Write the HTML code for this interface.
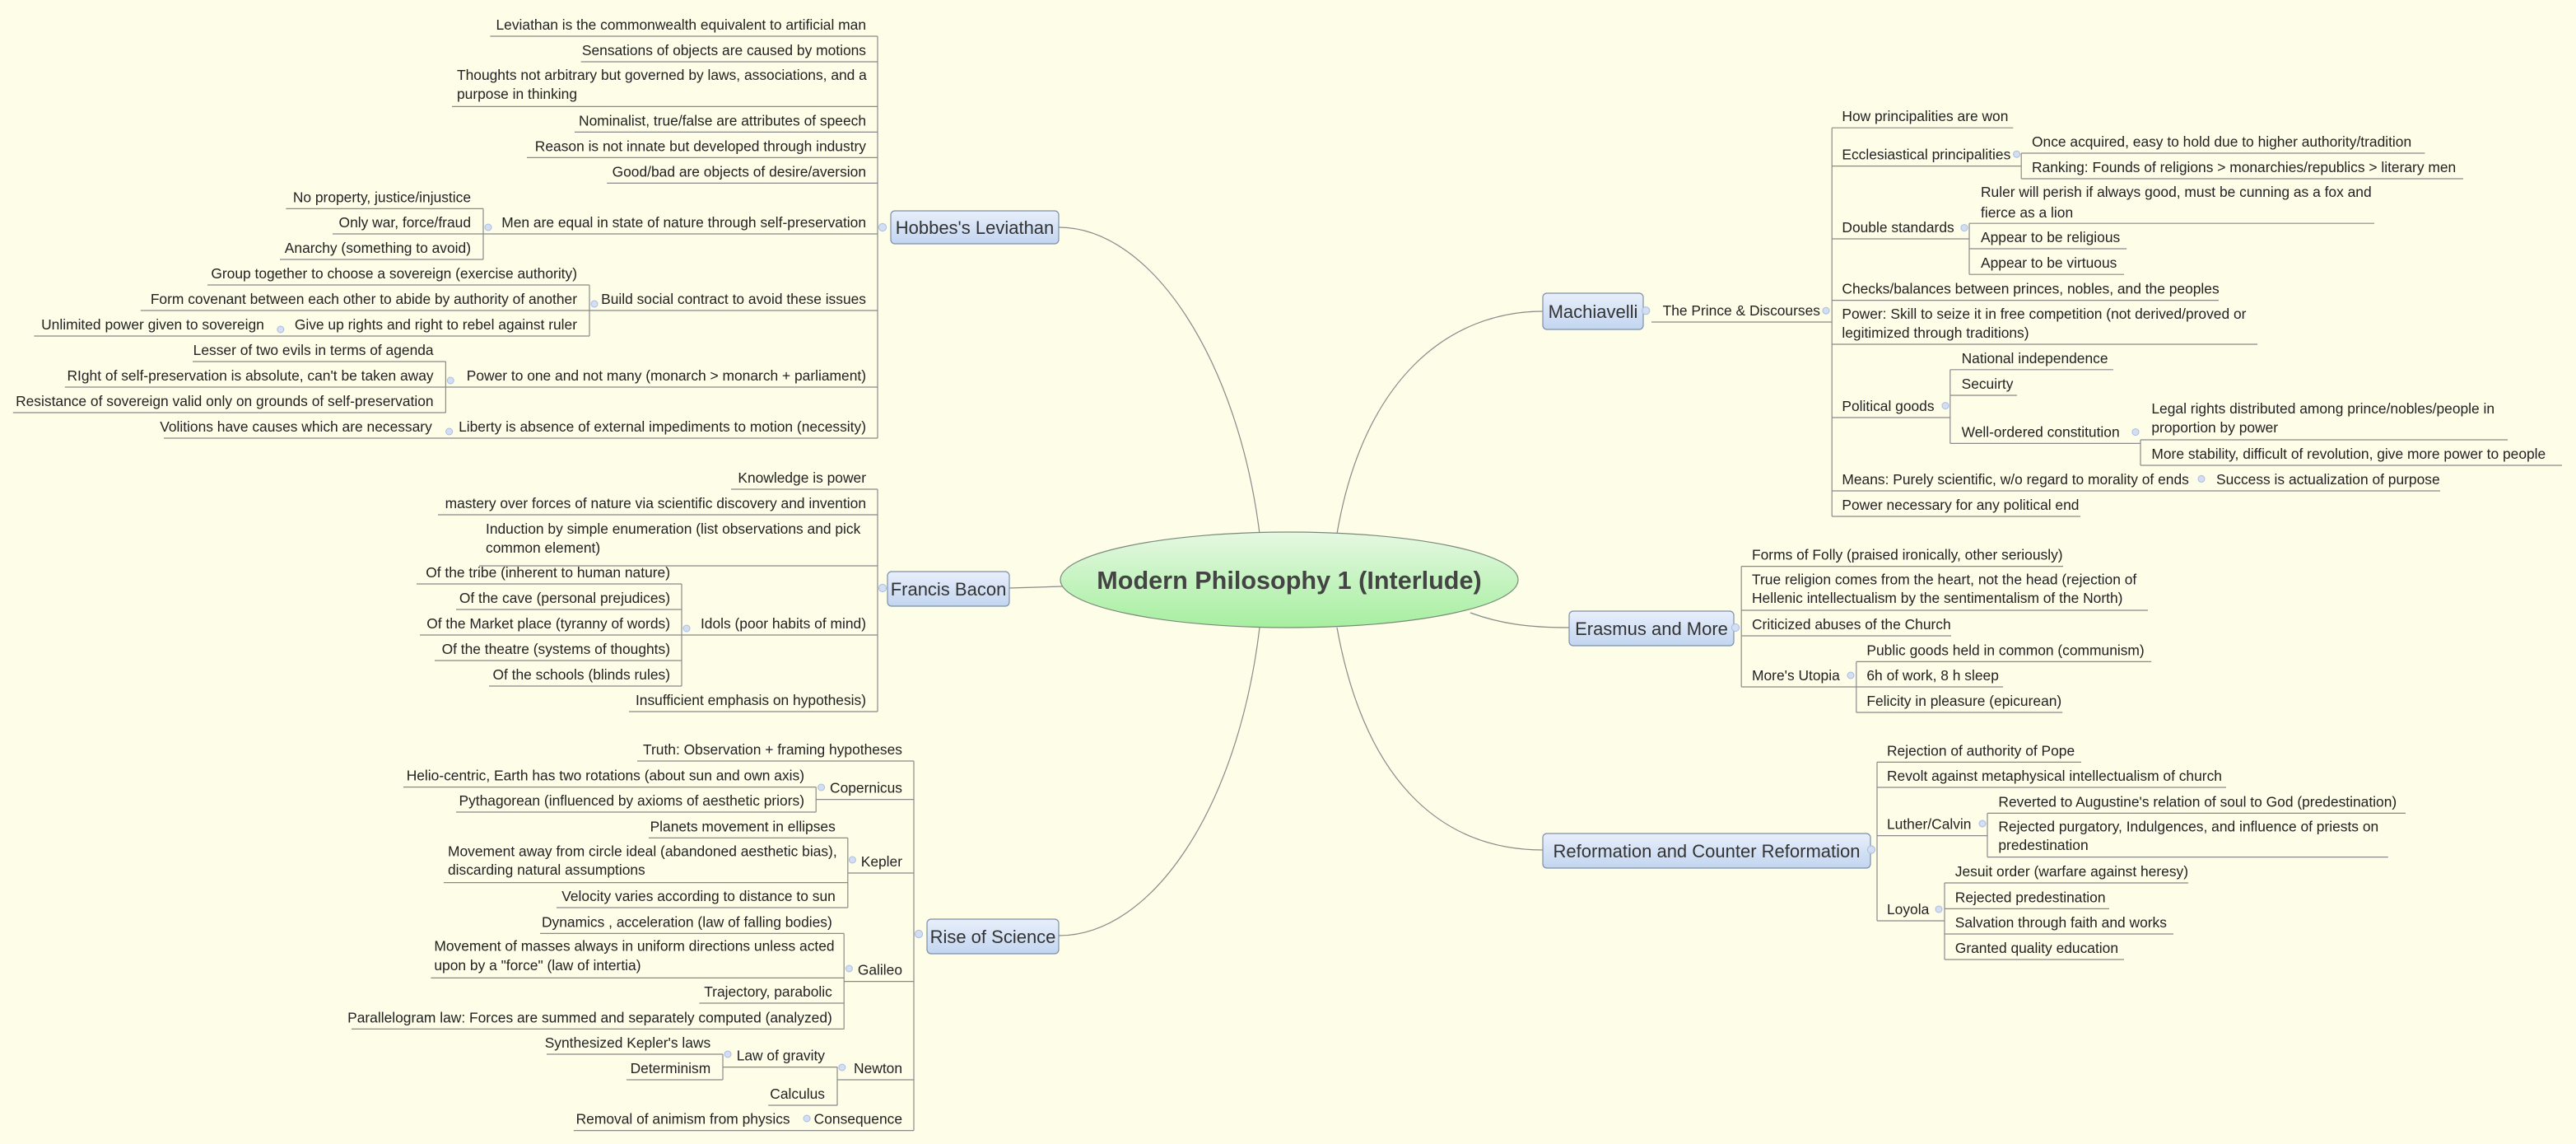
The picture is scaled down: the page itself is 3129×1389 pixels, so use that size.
<!DOCTYPE html>
<html><head><meta charset="utf-8"><style>
html,body{margin:0;padding:0;background:#fdfde8;}
svg{display:block}
.t{font-family:"Liberation Sans",sans-serif;font-size:8.7px;fill:#222}
.e{text-anchor:end}
.b{font-family:"Liberation Sans",sans-serif;font-size:11px;fill:#333;text-anchor:middle}
line,path.c{stroke:#8a8a8a;stroke-width:.6;fill:none}
circle{fill:#d3def2;stroke:#a9bee0;stroke-width:.5}
rect.bx{fill:url(#bg);stroke:#7f8fa8;stroke-width:.6}
</style></head><body>
<svg width="3129" height="1389" viewBox="0 0 1564.5 694.5" xmlns="http://www.w3.org/2000/svg">
<defs>
<linearGradient id="bg" x1="0" y1="0" x2="0" y2="1"><stop offset="0" stop-color="#e8effa"/><stop offset="1" stop-color="#c2d5f0"/></linearGradient>
<linearGradient id="gg" x1="0" y1="0" x2="0" y2="1"><stop offset="0" stop-color="#e6f8e2"/><stop offset="1" stop-color="#a6efa0"/></linearGradient>
</defs>
<rect width="1564.5" height="694.5" fill="#fdfde8"/>
<path class="c" d="M765,324 C752,220 700,138 643,138"/>
<path class="c" d="M645,356 L613,357"/>
<path class="c" d="M765,381 C752,490 700,568 643,568"/>
<path class="c" d="M812,324 C828,230 880,189 937,189"/>
<path class="c" d="M893,372 C912,379 930,381 953,381"/>
<path class="c" d="M812,381 C830,480 880,516 937,516"/>
<ellipse cx="783" cy="352" rx="139" ry="29" fill="url(#gg)" stroke="#7a8a7a" stroke-width=".6"/>
<text x="783" y="357.5" style="font-family:'Liberation Sans',sans-serif;font-size:15.3px;font-weight:bold;fill:#444;text-anchor:middle">Modern Philosophy 1 (Interlude)</text>

<rect class="bx" x="541" y="128" width="102" height="20" rx="2.5"/><text class="b" x="592" y="142">Hobbes's Leviathan</text>
<rect class="bx" x="539" y="347" width="74" height="21" rx="2.5"/><text class="b" x="576" y="361.5">Francis Bacon</text>
<rect class="bx" x="563" y="558" width="80" height="21" rx="2.5"/><text class="b" x="603" y="572.5">Rise of Science</text>
<rect class="bx" x="937" y="178" width="61" height="22" rx="2.5"/><text class="b" x="967.5" y="193">Machiavelli</text>
<rect class="bx" x="953" y="371" width="100" height="21" rx="2.5"/><text class="b" x="1003" y="385.5">Erasmus and More</text>
<rect class="bx" x="937" y="506" width="199" height="21" rx="2.5"/><text class="b" x="1036.5" y="520.5">Reformation and Counter Reformation</text>

<!-- HOBBES -->
<line x1="533" y1="22" x2="533" y2="266"/>
<circle cx="536" cy="138" r="2.3"/>
<text class="t e" x="526" y="18">Leviathan is the commonwealth equivalent to artificial man</text><line x1="297.7" y1="22" x2="533" y2="22"/>
<text class="t e" x="526" y="33.5">Sensations of objects are caused by motions</text><line x1="352.8" y1="37.5" x2="533" y2="37.5"/>
<text class="t" x="277.5" y="48.6">Thoughts not arbitrary but governed by laws, associations, and a<tspan x="277.5" y="60">purpose in thinking</tspan></text><line x1="274.5" y1="64.7" x2="533" y2="64.7"/>
<text class="t e" x="526" y="76.2">Nominalist, true/false are attributes of speech</text><line x1="349" y1="80.2" x2="533" y2="80.2"/>
<text class="t e" x="526" y="91.7">Reason is not innate but developed through industry</text><line x1="320" y1="95.7" x2="533" y2="95.7"/>
<text class="t e" x="526" y="107.2">Good/bad are objects of desire/aversion</text><line x1="368.6" y1="111.2" x2="533" y2="111.2"/>
<text class="t e" x="526" y="138">Men are equal in state of nature through self-preservation</text><line x1="293.5" y1="142" x2="533" y2="142"/>
<circle cx="296.5" cy="138" r="2"/>
<line x1="293.5" y1="126.7" x2="293.5" y2="157.5"/>
<text class="t e" x="286" y="122.7">No property, justice/injustice</text><line x1="173.7" y1="126.7" x2="293.5" y2="126.7"/>
<text class="t e" x="286" y="138">Only war, force/fraud</text><line x1="202" y1="142" x2="293.5" y2="142"/>
<text class="t e" x="286" y="153.5">Anarchy (something to avoid)</text><line x1="170" y1="157.5" x2="293.5" y2="157.5"/>
<text class="t e" x="526" y="184.5">Build social contract to avoid these issues</text><line x1="358" y1="188.5" x2="533" y2="188.5"/>
<circle cx="361" cy="184.5" r="2"/>
<line x1="358" y1="173" x2="358" y2="204"/>
<text class="t e" x="350.5" y="169">Group together to choose a sovereign (exercise authority)</text><line x1="126" y1="173" x2="358" y2="173"/>
<text class="t e" x="350.5" y="184.5">Form covenant between each other to abide by authority of another</text><line x1="85.4" y1="188.5" x2="358" y2="188.5"/>
<text class="t e" x="350.5" y="200">Give up rights and right to rebel against ruler</text><line x1="20.7" y1="204" x2="358" y2="204"/>
<circle cx="170.4" cy="200" r="2"/>
<text class="t e" x="160.4" y="200">Unlimited power given to sovereign</text>
<text class="t e" x="526" y="231">Power to one and not many (monarch &gt; monarch + parliament)</text><line x1="270.7" y1="235" x2="533" y2="235"/>
<circle cx="273.6" cy="231" r="2"/>
<line x1="270.7" y1="219.5" x2="270.7" y2="250.5"/>
<text class="t e" x="263.3" y="215.5">Lesser of two evils in terms of agenda</text><line x1="117" y1="219.5" x2="270.7" y2="219.5"/>
<text class="t e" x="263.3" y="231">RIght of self-preservation is absolute, can't be taken away</text><line x1="39.4" y1="235" x2="270.7" y2="235"/>
<text class="t e" x="263.3" y="246.5">Resistance of sovereign valid only on grounds of self-preservation</text><line x1="7.9" y1="250.5" x2="270.7" y2="250.5"/>
<text class="t e" x="526" y="262">Liberty is absence of external impediments to motion (necessity)</text><line x1="99.5" y1="266" x2="533" y2="266"/>
<circle cx="272.8" cy="262" r="2"/>
<text class="t e" x="262.4" y="262">Volitions have causes which are necessary</text>

<!-- BACON -->
<line x1="533" y1="297" x2="533" y2="432"/>
<circle cx="536" cy="357" r="2.3"/>
<text class="t e" x="526" y="293">Knowledge is power</text><line x1="444" y1="297" x2="533" y2="297"/>
<text class="t e" x="526" y="308.5">mastery over forces of nature via scientific discovery and invention</text><line x1="266" y1="312.5" x2="533" y2="312.5"/>
<text class="t" x="295" y="324">Induction by simple enumeration (list observations and pick<tspan x="295" y="335.5">common element)</tspan></text><line x1="291" y1="343.5" x2="533" y2="343.5"/>
<text class="t e" x="526" y="381.5">Idols (poor habits of mind)</text><line x1="414" y1="385.5" x2="533" y2="385.5"/>
<circle cx="417" cy="381.5" r="2"/>
<line x1="414" y1="354.5" x2="414" y2="416.5"/>
<text class="t e" x="407" y="350.5">Of the tribe (inherent to human nature)</text><line x1="253" y1="354.5" x2="414" y2="354.5"/>
<text class="t e" x="407" y="366">Of the cave (personal prejudices)</text><line x1="277" y1="370" x2="414" y2="370"/>
<text class="t e" x="407" y="381.5">Of the Market place (tyranny of words)</text><line x1="255" y1="385.5" x2="414" y2="385.5"/>
<text class="t e" x="407" y="397">Of the theatre (systems of thoughts)</text><line x1="264" y1="401" x2="414" y2="401"/>
<text class="t e" x="407" y="412.5">Of the schools (blinds rules)</text><line x1="297" y1="416.5" x2="414" y2="416.5"/>
<text class="t e" x="526" y="428">Insufficient emphasis on hypothesis)</text><line x1="382" y1="432" x2="533" y2="432"/>

<!-- SCIENCE -->
<line x1="555" y1="462" x2="555" y2="686.3"/>
<circle cx="558" cy="567" r="2.3"/>
<text class="t e" x="548" y="458">Truth: Observation + framing hypotheses</text><line x1="387" y1="462" x2="555" y2="462"/>
<text class="t e" x="548" y="481.3">Copernicus</text><line x1="495.6" y1="485.3" x2="555" y2="485.3"/>
<circle cx="498.8" cy="478" r="2"/>
<line x1="495.6" y1="477.8" x2="495.6" y2="493"/>
<text class="t e" x="488.5" y="473.8">Helio-centric, Earth has two rotations (about sun and own axis)</text><line x1="245" y1="477.8" x2="495.6" y2="477.8"/>
<text class="t e" x="488.5" y="489">Pythagorean (influenced by axioms of aesthetic priors)</text><line x1="277" y1="493" x2="495.6" y2="493"/>
<text class="t e" x="548" y="526">Kepler</text><line x1="514.9" y1="530" x2="555" y2="530"/>
<circle cx="517.7" cy="522" r="2"/>
<line x1="514.9" y1="508.7" x2="514.9" y2="551"/>
<text class="t e" x="507.4" y="504.7">Planets movement in ellipses</text><line x1="394" y1="508.7" x2="514.9" y2="508.7"/>
<text class="t" x="272" y="519.7">Movement away from circle ideal (abandoned aesthetic bias),<tspan x="272" y="531">discarding natural assumptions</tspan></text><line x1="269.5" y1="535.8" x2="514.9" y2="535.8"/>
<text class="t e" x="507.4" y="547">Velocity varies according to distance to sun</text><line x1="338" y1="551" x2="514.9" y2="551"/>
<text class="t e" x="548" y="591.8">Galileo</text><line x1="512.6" y1="595.8" x2="555" y2="595.8"/>
<circle cx="515.7" cy="588" r="2"/>
<line x1="512.6" y1="566.7" x2="512.6" y2="624.7"/>
<text class="t e" x="505.4" y="562.7">Dynamics , acceleration (law of falling bodies)</text><line x1="328" y1="566.7" x2="512.6" y2="566.7"/>
<text class="t" x="263.7" y="577.3">Movement of masses always in uniform directions unless acted<tspan x="263.7" y="589">upon by a "force" (law of intertia)</tspan></text><line x1="261.7" y1="593.7" x2="512.6" y2="593.7"/>
<text class="t e" x="505.4" y="605">Trajectory, parabolic</text><line x1="424.7" y1="609" x2="512.6" y2="609"/>
<text class="t e" x="505.4" y="620.7">Parallelogram law: Forces are summed and separately computed (analyzed)</text><line x1="213.5" y1="624.7" x2="512.6" y2="624.7"/>
<text class="t e" x="548" y="651.5">Newton</text><line x1="508.5" y1="655.5" x2="555" y2="655.5"/>
<circle cx="511.4" cy="648" r="2"/>
<line x1="508.5" y1="647.8" x2="508.5" y2="671"/>
<text class="t e" x="501" y="643.8">Law of gravity</text><line x1="439" y1="647.8" x2="508.5" y2="647.8"/>
<circle cx="442" cy="640" r="2"/>
<line x1="439" y1="640" x2="439" y2="655.5"/>
<text class="t e" x="431.6" y="636">Synthesized Kepler's laws</text><line x1="332" y1="640" x2="439" y2="640"/>
<text class="t e" x="431.6" y="651.5">Determinism</text><line x1="380.5" y1="655.5" x2="439" y2="655.5"/>
<text class="t e" x="501" y="667">Calculus</text><line x1="466.6" y1="671" x2="508.5" y2="671"/>
<text class="t e" x="548" y="682.3">Consequence</text><line x1="348.4" y1="686.3" x2="555" y2="686.3"/>
<circle cx="490" cy="679" r="2"/>
<text class="t e" x="479.8" y="682.3">Removal of animism from physics</text>

<!-- MACHIAVELLI -->
<circle cx="999.6" cy="188.6" r="2.3"/>
<text class="t" x="1009.8" y="191.5">The Prince &amp; Discourses</text><line x1="1003" y1="195.5" x2="1112.6" y2="195.5"/>
<circle cx="1109" cy="188.6" r="2"/>
<line x1="1112.6" y1="77.6" x2="1112.6" y2="313.5"/>
<text class="t" x="1118.7" y="73.6">How principalities are won</text><line x1="1112.6" y1="77.6" x2="1222.7" y2="77.6"/>
<text class="t" x="1118.7" y="96.8">Ecclesiastical principalities</text><line x1="1112.6" y1="100.8" x2="1227.6" y2="100.8"/>
<circle cx="1224.8" cy="93.6" r="2"/>
<line x1="1227.6" y1="93" x2="1227.6" y2="108.5"/>
<text class="t" x="1234" y="89">Once acquired, easy to hold due to higher authority/tradition</text><line x1="1227.6" y1="93" x2="1472.7" y2="93"/>
<text class="t" x="1234" y="104.5">Ranking: Founds of religions &gt; monarchies/republics &gt; literary men</text><line x1="1227.6" y1="108.5" x2="1496" y2="108.5"/>
<text class="t" x="1118.7" y="141">Double standards</text><line x1="1112.6" y1="145" x2="1196" y2="145"/>
<circle cx="1193" cy="138.3" r="2"/>
<line x1="1196" y1="135.6" x2="1196" y2="166.6"/>
<text class="t" x="1203" y="119.6">Ruler will perish if always good, must be cunning as a fox and<tspan x="1203" y="132">fierce as a lion</tspan></text><line x1="1196" y1="135.6" x2="1442" y2="135.6"/>
<text class="t" x="1203" y="147">Appear to be religious</text><line x1="1196" y1="151" x2="1291.6" y2="151"/>
<text class="t" x="1203" y="162.6">Appear to be virtuous</text><line x1="1196" y1="166.6" x2="1290" y2="166.6"/>
<text class="t" x="1118.7" y="178.3">Checks/balances between princes, nobles, and the peoples</text><line x1="1112.6" y1="182.3" x2="1347.5" y2="182.3"/>
<text class="t" x="1118.7" y="193.5">Power: Skill to seize it in free competition (not derived/proved or<tspan x="1118.7" y="205">legitimized through traditions)</tspan></text><line x1="1112.6" y1="209" x2="1371" y2="209"/>
<text class="t" x="1118.7" y="249.5">Political goods</text><line x1="1112.6" y1="253.5" x2="1184.4" y2="253.5"/>
<circle cx="1181.5" cy="246.3" r="2"/>
<line x1="1184.4" y1="224.4" x2="1184.4" y2="269.2"/>
<text class="t" x="1191.3" y="220.4">National independence</text><line x1="1184.4" y1="224.4" x2="1283.5" y2="224.4"/>
<text class="t" x="1191.3" y="236">Secuirty</text><line x1="1184.4" y1="240" x2="1225" y2="240"/>
<text class="t" x="1191.3" y="265.2">Well-ordered constitution</text><line x1="1184.4" y1="269.2" x2="1300" y2="269.2"/>
<circle cx="1297" cy="262.3" r="2"/>
<line x1="1300" y1="267" x2="1300" y2="282.5"/>
<text class="t" x="1306.7" y="251">Legal rights distributed among prince/nobles/people in<tspan x="1306.7" y="262.6">proportion by power</tspan></text><line x1="1300" y1="267" x2="1523" y2="267"/>
<text class="t" x="1306.7" y="278.5">More stability, difficult of revolution, give more power to people</text><line x1="1300" y1="282.5" x2="1556" y2="282.5"/>
<text class="t" x="1118.7" y="294">Means: Purely scientific, w/o regard to morality of ends</text><line x1="1112.6" y1="298" x2="1482" y2="298"/>
<circle cx="1337" cy="290.7" r="2"/>
<text class="t" x="1346" y="294">Success is actualization of purpose</text>
<text class="t" x="1118.7" y="309.5">Power necessary for any political end</text><line x1="1112.6" y1="313.5" x2="1263.5" y2="313.5"/>

<!-- ERASMUS -->
<circle cx="1054" cy="381" r="2.3"/>
<line x1="1057.6" y1="343.8" x2="1057.6" y2="417"/>
<text class="t" x="1064" y="339.8">Forms of Folly (praised ironically, other seriously)</text><line x1="1057.6" y1="343.8" x2="1253" y2="343.8"/>
<text class="t" x="1064" y="354.7">True religion comes from the heart, not the head (rejection of<tspan x="1064" y="366">Hellenic intellectualism by the sentimentalism of the North)</tspan></text><line x1="1057.6" y1="370.5" x2="1304.5" y2="370.5"/>
<text class="t" x="1064" y="382">Criticized abuses of the Church</text><line x1="1057.6" y1="386" x2="1185" y2="386"/>
<text class="t" x="1064" y="413">More's Utopia</text><line x1="1057.6" y1="417" x2="1127.4" y2="417"/>
<circle cx="1124" cy="410" r="2"/>
<line x1="1127.4" y1="401.7" x2="1127.4" y2="432.5"/>
<text class="t" x="1133.7" y="397.7">Public goods held in common (communism)</text><line x1="1127.4" y1="401.7" x2="1306.6" y2="401.7"/>
<text class="t" x="1133.7" y="413">6h of work, 8 h sleep</text><line x1="1127.4" y1="417" x2="1216.5" y2="417"/>
<text class="t" x="1133.7" y="428.5">Felicity in pleasure (epicurean)</text><line x1="1127.4" y1="432.5" x2="1252.6" y2="432.5"/>

<!-- REFORMATION -->
<circle cx="1136.5" cy="515.8" r="2.3"/>
<line x1="1140" y1="462.7" x2="1140" y2="559"/>
<text class="t" x="1146" y="458.7">Rejection of authority of Pope</text><line x1="1140" y1="462.7" x2="1264" y2="462.7"/>
<text class="t" x="1146" y="474">Revolt against metaphysical intellectualism of church</text><line x1="1140" y1="478" x2="1352" y2="478"/>
<text class="t" x="1146" y="503.3">Luther/Calvin</text><line x1="1140" y1="507.3" x2="1207" y2="507.3"/>
<circle cx="1204" cy="500" r="2"/>
<line x1="1207" y1="493.7" x2="1207" y2="520.3"/>
<text class="t" x="1213.7" y="489.7">Reverted to Augustine's relation of soul to God (predestination)</text><line x1="1207" y1="493.7" x2="1461" y2="493.7"/>
<text class="t" x="1213.7" y="504.7">Rejected  purgatory, Indulgences, and influence of priests on<tspan x="1213.7" y="516">predestination</tspan></text><line x1="1207" y1="520.3" x2="1450.4" y2="520.3"/>
<text class="t" x="1146" y="555">Loyola</text><line x1="1140" y1="559" x2="1181" y2="559"/>
<circle cx="1177.5" cy="552" r="2"/>
<line x1="1181" y1="536" x2="1181" y2="582.5"/>
<text class="t" x="1187.4" y="532">Jesuit order (warfare against heresy)</text><line x1="1181" y1="536" x2="1329" y2="536"/>
<text class="t" x="1187.4" y="547.7">Rejected predestination</text><line x1="1181" y1="551.7" x2="1281" y2="551.7"/>
<text class="t" x="1187.4" y="563">Salvation through faith and works</text><line x1="1181" y1="567" x2="1320" y2="567"/>
<text class="t" x="1187.4" y="578.5">Granted quality education</text><line x1="1181" y1="582.5" x2="1290" y2="582.5"/>
</svg>
</body></html>
